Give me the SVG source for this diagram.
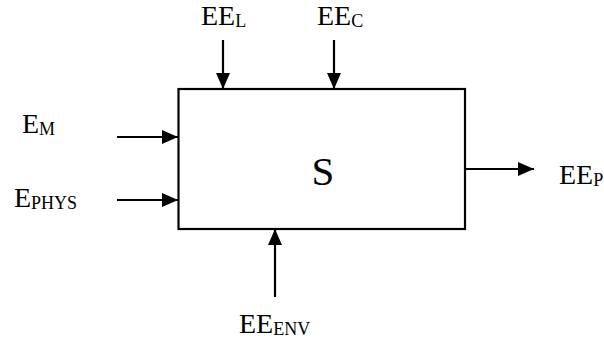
<svg xmlns="http://www.w3.org/2000/svg" width="604" height="347" viewBox="0 0 604 347">
<style>
text{font-family:"Liberation Serif","Times New Roman",serif;fill:#000}
.lbl{font-size:28px}
.sub{font-size:18px}
.ln{stroke:#000;stroke-width:2.2;fill:none}
</style>
<defs>
<marker id="ah" viewBox="0 0 16 14" refX="16" refY="7" markerWidth="16" markerHeight="14" markerUnits="userSpaceOnUse" orient="auto">
<path d="M0,0 L16,7 L0,14 Z" fill="#000"/>
</marker>
</defs>
<rect width="604" height="347" fill="#fff"/>
<g id="S">
<rect x="178.5" y="89" width="286.5" height="140" class="ln"/>
<text x="323" y="185" font-size="41" text-anchor="middle">S</text>
</g>
<g id="EE_L"><text x="201" y="25" class="lbl">EE<tspan class="sub" dy="2">L</tspan></text></g>
<g id="EE_C"><text x="317" y="25" class="lbl">EE<tspan class="sub" dy="2">C</tspan></text></g>
<g id="E_M"><text x="22" y="133" class="lbl">E<tspan class="sub" dy="2">M</tspan></text></g>
<g id="E_PHYS"><text x="14" y="207" class="lbl">E<tspan class="sub" dy="2">PHYS</tspan></text></g>
<g id="EE_P"><text x="559" y="184" class="lbl">EE<tspan class="sub" dy="2">P</tspan></text></g>
<g id="EE_ENV"><text x="239" y="333" class="lbl">EE<tspan class="sub" dy="2">ENV</tspan></text></g>
<g id="connectors">
<line x1="223" y1="40" x2="223" y2="89" class="ln" marker-end="url(#ah)"/>
<line x1="334" y1="40" x2="334" y2="89" class="ln" marker-end="url(#ah)"/>
<line x1="117" y1="137" x2="178" y2="137" class="ln" marker-end="url(#ah)"/>
<line x1="117" y1="200" x2="178" y2="200" class="ln" marker-end="url(#ah)"/>
<line x1="465" y1="169" x2="534" y2="169" class="ln" marker-end="url(#ah)"/>
<line x1="275" y1="297" x2="275" y2="229" class="ln" marker-end="url(#ah)"/>
</g>
</svg>
